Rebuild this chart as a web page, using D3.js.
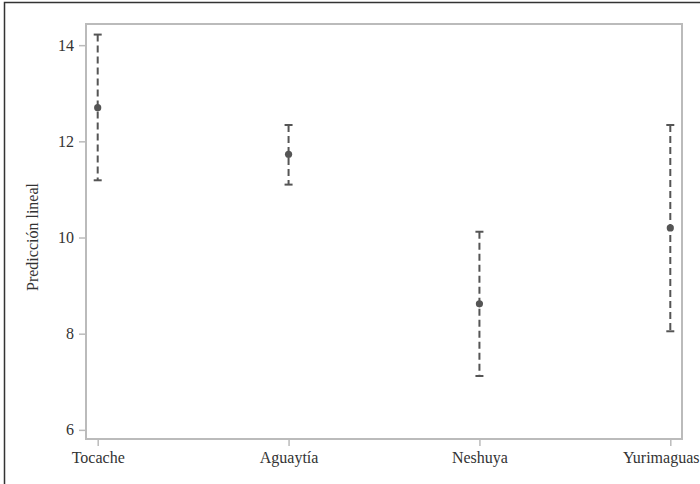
<!DOCTYPE html>
<html><head><meta charset="utf-8">
<script src="https://cdn.jsdelivr.net/npm/d3@7"></script>
<style>body{margin:0;background:#fff}svg{display:block}</style>
</head><body>
<svg id="c" width="700" height="484"></svg>
<script>
const categories = ["Tocache", "Aguaytía", "Neshuya", "Yurimaguas"];
const estimates = [12.70, 11.73, 8.62, 10.20];
const lower = [11.19, 11.10, 7.12, 8.05];
const upper = [14.22, 12.34, 10.12, 12.34];
const yTicks = [6, 8, 10, 12, 14];
const yTitle = "Predicción lineal";

const svg = d3.select("#c");
const font = "Liberation Serif, serif";
const L = 86, T = 24, R = 682, B = 439;

svg.append("rect").attr("x", 4.5).attr("y", 2.5).attr("width", 710).attr("height", 500)
  .attr("fill", "none").attr("stroke", "#333").attr("stroke-width", 1.5);

const x = d3.scalePoint().domain(categories).range([97.7, 670.3]);
const y = d3.scaleLinear().domain([5.81, 14.44]).range([B, T]);

svg.append("rect").attr("x", L).attr("y", T).attr("width", R - L).attr("height", B - T)
  .attr("fill", "none").attr("stroke", "#bbb").attr("stroke-width", 2);

const yAxis = svg.append("g").attr("transform", `translate(${L - 1},0)`)
  .call(d3.axisLeft(y).tickValues(yTicks).tickSize(6).tickPadding(5).tickFormat(d3.format("d")));
yAxis.attr("font-family", font).attr("font-size", 16);
yAxis.select(".domain").remove();
yAxis.selectAll("line").attr("stroke", "#bbb").attr("stroke-width", 1.5);
yAxis.selectAll("text").attr("fill", "#333");

const xAxis = svg.append("g").attr("transform", `translate(0,${B + 1})`)
  .call(d3.axisBottom(x).tickSize(6).tickPadding(6));
xAxis.attr("font-family", font).attr("font-size", 16);
xAxis.select(".domain").remove();
xAxis.selectAll("line").attr("stroke", "#bbb").attr("stroke-width", 1.5);
xAxis.selectAll("text").attr("fill", "#333");
// keep the last label inside the picture
xAxis.selectAll(".tick").filter(d => d === categories[categories.length - 1])
  .select("text").attr("text-anchor", "end").attr("x", 699 - x(categories[categories.length - 1]));

svg.append("text").attr("transform", "translate(38,237) rotate(-90)")
  .attr("text-anchor", "middle").attr("font-family", font).attr("font-size", 16)
  .attr("fill", "#333").text(yTitle);

const data = categories.map((c, i) => ({c, e: estimates[i], lo: lower[i], hi: upper[i]}));
const g = svg.append("g");
const col = "#555";
g.selectAll("line.bar").data(data).join("line").attr("class", "bar")
  .attr("x1", d => x(d.c)).attr("x2", d => x(d.c))
  .attr("y1", d => y(d.hi)).attr("y2", d => y(d.lo))
  .attr("stroke", col).attr("stroke-width", 2).attr("stroke-dasharray", "7,4");
["hi", "lo"].forEach(k => {
  g.selectAll("line.cap" + k).data(data).join("line").attr("class", "cap" + k)
    .attr("x1", d => x(d.c) - 4).attr("x2", d => x(d.c) + 4)
    .attr("y1", d => y(d[k])).attr("y2", d => y(d[k]))
    .attr("stroke", col).attr("stroke-width", 2);
});
g.selectAll("circle").data(data).join("circle")
  .attr("cx", d => x(d.c)).attr("cy", d => y(d.e)).attr("r", 3.6).attr("fill", col);
</script>
</body></html>
